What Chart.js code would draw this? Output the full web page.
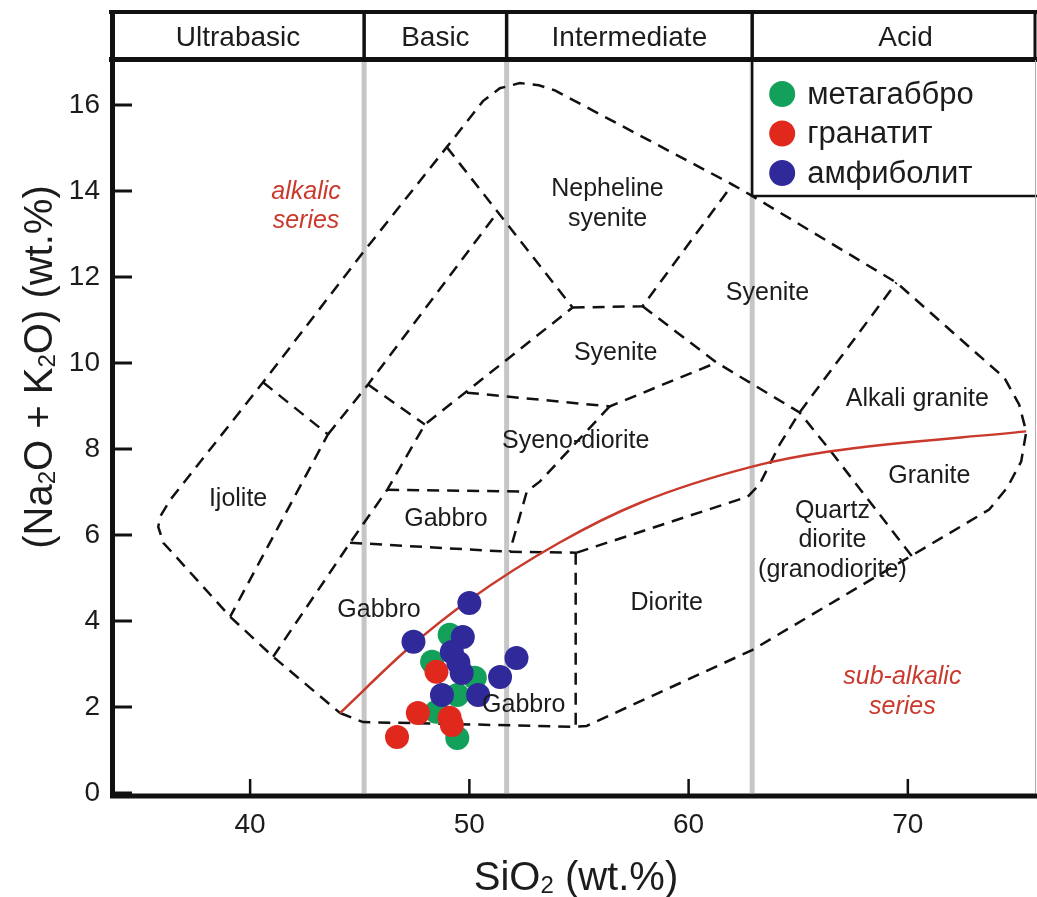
<!DOCTYPE html>
<html>
<head>
<meta charset="utf-8">
<script src="https://cdn.jsdelivr.net/npm/chart.js@4.4.1/dist/chart.umd.min.js"></script>
<style>
  html, body { margin: 0; padding: 0; background: #fff; overflow: hidden; }
  #wrap { width: 1037px; height: 897px; }
  canvas { display: block; }
</style>
</head>
<body>
<div id="wrap"><canvas id="tas"></canvas></div>
<script>
// axis ticks and silica classes
const siO2Ticks = [40, 50, 60, 70];
const alkaliTicks = [0, 2, 4, 6, 8, 10, 12, 14, 16];
const silicaDividers = [45.2, 51.7, 62.9];
const silicaClasses = ['Ultrabasic', 'Basic', 'Intermediate', 'Acid'];

// samples (SiO2, Na2O+K2O)
const metagabbroSiO2 = [49.1, 48.3, 50.25, 49.45, 48.5, 49.45];
const metagabbroAlk  = [3.68, 3.05, 2.68, 2.28, 1.89, 1.28];
const granatitSiO2 = [48.5, 47.65, 46.7, 49.1, 49.2];
const granatitAlk  = [2.82, 1.86, 1.30, 1.75, 1.58];
const amphibolitSiO2 = [50.0, 47.45, 49.7, 49.2, 49.5, 49.65, 52.15, 51.4, 50.4, 48.75];
const amphibolitAlk  = [4.42, 3.52, 3.63, 3.28, 3.03, 2.79, 3.14, 2.70, 2.28, 2.28];

// alkalic / sub-alkalic divide
const divideSiO2 = [44.1, 47.3, 50.0, 54.1, 57.8, 62.9, 66.4, 75.4];
const divideAlk  = [1.86, 3.40, 4.49, 5.82, 6.75, 7.59, 7.94, 8.41];

// field boundaries, [SiO2, alkali]
const outline = [[44.10,1.86],[45.15,1.65],[54.81,1.54],[55.35,1.56],[62.92,3.33],[70.07,5.49],
  [73.71,6.59],[74.53,7.10],[75.17,7.71],[75.40,8.40],[75.08,9.03],[74.40,9.66],[72.94,10.31],
  [69.48,11.87],[62.92,13.88],[62.00,14.15],[53.90,16.34],[53.17,16.46],[52.30,16.51],[51.39,16.39],
  [50.62,16.09],[48.97,15.02],[45.15,12.57],[40.59,9.55],[36.36,6.82],[35.90,6.43],[35.81,6.19],
  [36.04,5.82],[36.45,5.59],[39.09,4.10],[41.05,3.17],[44.10,1.86]];
const ijoliteEdge = [[40.59,9.55],[43.55,8.34],[39.09,4.10]];
const gabbroEdge = [[41.05,3.17],[44.56,5.82],[46.25,7.05],[47.97,8.57],[54.71,11.29]];
const upperEdge = [[43.55,8.34],[45.38,9.50],[51.25,13.48]];
const tickEdge = [[45.38,9.50],[47.97,8.57]];
const nephelineLeft = [[48.97,15.02],[54.71,11.29]];
const syeniteTop = [[54.71,11.29],[57.90,11.32],[62.00,14.15]];
const syeniteBase = [[49.89,9.31],[56.40,8.99],[61.28,10.01]];
const graniteEdge = [[57.90,11.32],[61.28,10.01],[65.06,8.85],[66.42,7.99],[70.21,5.49]];
const syenoDioriteEdge = [[56.40,8.99],[53.21,7.24],[52.62,7.01],[51.84,5.61]];
const gabbroTop = [[46.25,7.05],[52.62,7.01]];
const gabbroBase = [[44.56,5.82],[51.84,5.61],[54.90,5.59]];
const dioriteTop = [[54.90,5.59],[62.69,6.89],[63.23,7.17],[64.15,8.10],[65.06,8.85],[69.48,11.87]];
const dioriteLeft = [[54.85,5.59],[54.85,1.54]];

const fieldLabels = [
  { text: ['Nepheline', 'syenite'], at: [56.3, 13.7] },
  { text: ['Syenite'], at: [56.67, 10.22] },
  { text: ['Syeno-diorite'], at: [54.85, 8.19] },
  { text: ['Syenite'], at: [63.6, 11.62] },
  { text: ['Alkali granite'], at: [70.43, 9.17] },
  { text: ['Granite'], at: [70.98, 7.38] },
  { text: ['Quartz', 'diorite', '(granodiorite)'], at: [66.56, 5.87] },
  { text: ['Diorite'], at: [59.0, 4.42] },
  { text: ['Ijolite'], at: [39.45, 6.84] },
  { text: ['Gabbro'], at: [48.93, 6.36] },
  { text: ['Gabbro'], at: [45.88, 4.26] },
  { text: ['Gabbro'], at: [52.48, 2.05] },
  { text: ['alkalic', 'series'], at: [42.55, 13.64], red: true },
  { text: ['sub-alkalic', 'series'], at: [69.75, 2.35], red: true }
];

const FONT = '"Liberation Sans", Arial, Helvetica, sans-serif';
const ink = '#1c1c1c';
const seriesRed = '#c9392c';

const pts = (xs, ys) => xs.map((v, i) => ({ x: v, y: ys[i] }));
const pairs = arr => arr.map(p => ({ x: p[0], y: p[1] }));

function dashed(arr) {
  return {
    data: pairs(arr), showLine: true, borderColor: '#111', borderWidth: 2.5,
    borderDash: [12, 8], pointRadius: 0, tension: 0, fill: false, order: 5
  };
}
function sample(label, color, xs, ys, order) {
  return {
    label: label, data: pts(xs, ys), backgroundColor: color, borderColor: color,
    borderWidth: 0, pointRadius: 12, order: order
  };
}

const boundaries = [outline, ijoliteEdge, gabbroEdge, upperEdge, tickEdge, nephelineLeft, syeniteTop,
  syeniteBase, graniteEdge, syenoDioriteEdge, gabbroTop, gabbroBase, dioriteTop, dioriteLeft];

const samples = [
  sample('метагаббро', '#13a05b', metagabbroSiO2, metagabbroAlk, 3),
  sample('гранатит', '#e0281d', granatitSiO2, granatitAlk, 2),
  sample('амфиболит', '#30299a', amphibolitSiO2, amphibolitAlk, 1)
];

const datasets = [
  ...samples,
  {
    data: pts(divideSiO2, divideAlk), showLine: true, borderColor: seriesRed, borderWidth: 2.5,
    pointRadius: 0, cubicInterpolationMode: 'monotone', fill: false, order: 4
  },
  ...boundaries.map(dashed),
  ...silicaDividers.map(v => ({
    data: [{ x: v, y: 0 }, { x: v, y: 17 }], showLine: true, borderColor: '#c6c6c6',
    borderWidth: 5, pointRadius: 0, order: 6
  }))
];

// draw text with subscripts, centred on (cx, cy)
function subText(ctx, parts, cx, cy, size) {
  const big = size + 'px ' + FONT, small = Math.round(size * 0.6) + 'px ' + FONT;
  let w = 0;
  parts.forEach(p => { ctx.font = p[1] ? small : big; w += ctx.measureText(p[0]).width; });
  let x = cx - w / 2;
  ctx.textAlign = 'left';
  ctx.textBaseline = 'alphabetic';
  parts.forEach(p => {
    ctx.font = p[1] ? small : big;
    ctx.fillText(p[0], x, cy + (p[1] ? size * 0.42 : size * 0.35));
    x += ctx.measureText(p[0]).width;
  });
}

const decor = {
  id: 'decor',
  afterDatasetsDraw(chart) {
    const { ctx, scales: { x, y } } = chart;
    ctx.save();
    // field names
    fieldLabels.forEach(f => {
      const px = x.getPixelForValue(f.at[0]);
      const py = y.getPixelForValue(f.at[1]);
      const lh = 29.5;
      ctx.font = (f.red ? 'italic ' : '') + '25px ' + FONT;
      ctx.fillStyle = f.red ? seriesRed : ink;
      ctx.textAlign = 'center';
      ctx.textBaseline = 'middle';
      f.text.forEach((t, i) => ctx.fillText(t, px, py + (i - (f.text.length - 1) / 2) * lh));
    });
    // legend box
    const lx = x.getPixelForValue(silicaDividers[2]);
    ctx.fillStyle = '#fff';
    ctx.fillRect(lx, 60, 1037 - lx, 136);
    ctx.strokeStyle = '#111';
    ctx.lineWidth = 2.5;
    ctx.beginPath();
    ctx.moveTo(lx, 60); ctx.lineTo(lx, 196); ctx.lineTo(1037, 196);
    ctx.stroke();
    samples.forEach((s, i) => {
      const cy = 94 + i * 39.5;
      ctx.fillStyle = s.backgroundColor;
      ctx.beginPath();
      ctx.arc(lx + 30, cy, 13, 0, Math.PI * 2);
      ctx.fill();
      ctx.fillStyle = ink;
      ctx.font = '31px ' + FONT;
      ctx.textAlign = 'left';
      ctx.textBaseline = 'middle';
      ctx.fillText(s.label, lx + 55, cy + 1);
    });
    ctx.restore();
  },
  afterDraw(chart) {
    const { ctx, chartArea: a, scales: { x, y } } = chart;
    ctx.save();
    ctx.strokeStyle = '#111';
    ctx.lineCap = 'butt';
    // header with silica classes
    ctx.fillStyle = '#fff';
    ctx.fillRect(a.left, 10, 1037 - a.left, 50);
    ctx.lineWidth = 4;
    ctx.beginPath(); ctx.moveTo(a.left - 3, 12); ctx.lineTo(1037, 12); ctx.stroke();
    ctx.lineWidth = 5;
    ctx.beginPath(); ctx.moveTo(a.left - 3, 59.5); ctx.lineTo(1037, 59.5); ctx.stroke();
    ctx.lineWidth = 3;
    ctx.beginPath(); ctx.moveTo(1035, 12); ctx.lineTo(1035, 60); ctx.stroke();
    const edges = [a.left, ...silicaDividers.map(v => x.getPixelForValue(v)), 1035];
    ctx.lineWidth = 3.5;
    silicaDividers.forEach((v, i) => {
      ctx.beginPath(); ctx.moveTo(edges[i + 1], 12); ctx.lineTo(edges[i + 1], 60); ctx.stroke();
    });
    ctx.fillStyle = ink;
    ctx.font = '28px ' + FONT;
    ctx.textAlign = 'center';
    ctx.textBaseline = 'middle';
    silicaClasses.forEach((t, i) => ctx.fillText(t, (edges[i] + edges[i + 1]) / 2 + (i === 3 ? 12 : 0), 38));

    // right edge
    ctx.strokeStyle = '#aaa';
    ctx.lineWidth = 1;
    ctx.beginPath(); ctx.moveTo(1035.5, 60); ctx.lineTo(1035.5, a.bottom); ctx.stroke();

    // axes
    ctx.strokeStyle = '#111';
    ctx.lineWidth = 5;
    ctx.beginPath(); ctx.moveTo(a.left + 0.5, 10); ctx.lineTo(a.left + 0.5, a.bottom + 5); ctx.stroke();
    ctx.beginPath(); ctx.moveTo(a.left - 2, a.bottom + 3); ctx.lineTo(1037, a.bottom + 3); ctx.stroke();

    // inward tick marks
    ctx.lineWidth = 3;
    alkaliTicks.forEach(v => {
      const py = y.getPixelForValue(v);
      ctx.beginPath(); ctx.moveTo(a.left + 2, py); ctx.lineTo(a.left + 20, py); ctx.stroke();
    });
    ctx.lineWidth = 2.5;
    siO2Ticks.forEach(v => {
      const px = x.getPixelForValue(v);
      ctx.beginPath(); ctx.moveTo(px, a.bottom + 1); ctx.lineTo(px, a.bottom - 14); ctx.stroke();
    });

    // axis titles
    ctx.fillStyle = ink;
    subText(ctx, [['SiO', 0], ['2', 1], [' (wt.%)', 0]], 576, 876, 40);
    ctx.translate(38, 367);
    ctx.rotate(-Math.PI / 2);
    subText(ctx, [['(Na', 0], ['2', 1], ['O + K', 0], ['2', 1], ['O) (wt.%)', 0]], 0, 0, 40);
    ctx.restore();
  }
};

const tickFont = { family: FONT, size: 28 };

new Chart(document.getElementById('tas'), {
  type: 'scatter',
  data: { datasets: datasets },
  options: {
    responsive: true,
    maintainAspectRatio: false,
    animation: false,
    events: [],
    layout: { autoPadding: false, padding: { top: 62, right: 2, left: 0, bottom: 0 } },
    plugins: { legend: { display: false }, tooltip: { enabled: false } },
    scales: {
      x: {
        type: 'linear', min: 33.7, max: 75.8,
        afterBuildTicks: s => { s.ticks = siO2Ticks.map(v => ({ value: v })); },
        afterFit: s => { s.height = 104; s.paddingLeft = 0; s.paddingRight = 0; },
        grid: { display: false, drawTicks: false }, border: { display: false },
        ticks: { font: tickFont, color: ink, padding: 15, maxRotation: 0 }
      },
      y: {
        type: 'linear', min: 0, max: 17,
        afterBuildTicks: s => { s.ticks = alkaliTicks.map(v => ({ value: v })); },
        afterFit: s => { s.width = 112; s.paddingTop = 0; s.paddingBottom = 0; },
        grid: { display: false, drawTicks: false }, border: { display: false },
        ticks: { font: tickFont, color: ink, padding: 12 }
      }
    }
  },
  plugins: [decor]
});
</script>
</body>
</html>
